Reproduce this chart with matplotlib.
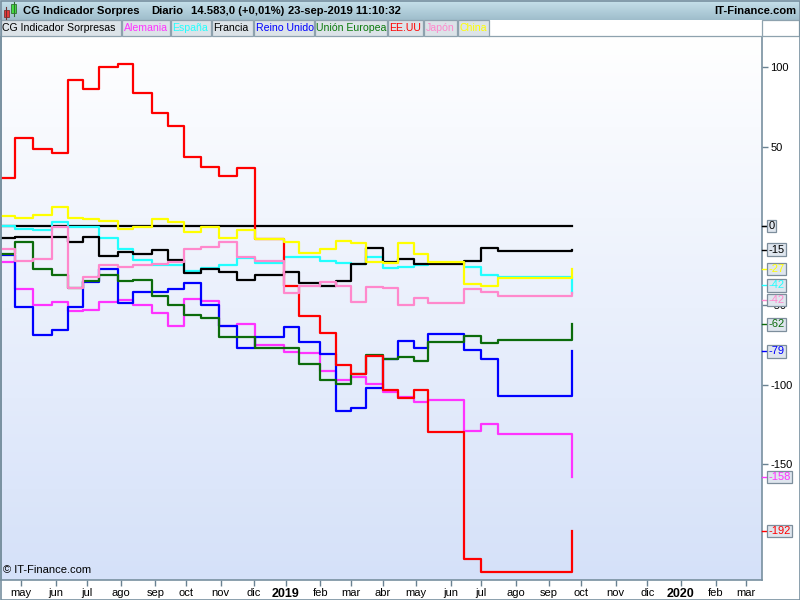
import numpy as np
import matplotlib
matplotlib.use('Agg')
import matplotlib.pyplot as plt
from matplotlib.patches import Rectangle
from matplotlib.lines import Line2D
from matplotlib.colors import LinearSegmentedColormap

plt.rcParams['font.family'] = ['Liberation Sans', 'DejaVu Sans']

# ---------------- data ----------------
release_dates = ['2018-04-12', '2018-04-25', '2018-05-11', '2018-05-30', '2018-06-13',
                 '2018-06-27', '2018-07-12', '2018-07-30', '2018-08-13', '2018-08-30',
                 '2018-09-13', '2018-09-28', '2018-10-15', '2018-10-31', '2018-11-16',
                 '2018-12-04', '2018-12-31', '2019-01-14', '2019-02-01', '2019-02-15',
                 '2019-03-01', '2019-03-15', '2019-04-01', '2019-04-15', '2019-04-30',
                 '2019-05-13', '2019-06-14', '2019-07-01', '2019-07-16', '2019-09-23']

cg_dates = ['2018-04-12', '2019-09-23']
cg_values = [0, 0]

alemania = [-22.7, -39.8, -49.6, -48, -53.8, -52.7, -47.7, -46.5, -49.8, -54.7,
            -62.7, -46.2, -47, -62.8, -62, -75, -79.5, -80, -91, -97.1,
            -95.2, -99.2, -104.5, -107.5, -110.8, -109.7, -129.3, -124.4, -131.1, -158]
espana = [0, -1.8, -2.8, 2.2, -0.6, -0.6, -7.8, -14.6, -21.2, -24.6,
          -24.6, -28.5, -26.2, -24.5, -20.4, -23.3, -19.7, -19.7, -21.9, -23.5,
          -24, -19.7, -26.7, -25.6, -24.6, -23.5, -26, -30.7, -32, -42]
francia = [-7.8, -7.1, -6.7, -7, -10.3, -7.1, -19, -16.2, -17.7, -15,
           -21.2, -29.6, -27, -29, -34, -30.9, -28.8, -36.1, -37.8, -34.5,
           -24, -14.1, -22.9, -21, -23.7, -23.7, -22.2, -14.1, -15.6, -15]
reino_unido = [-18.3, -51.1, -68.7, -65.8, -50.9, -35.3, -27.3, -48.5, -41.8, -41.8,
               -39.6, -36.1, -49.6, -63.2, -77, -70, -63.9, -73.3, -80.9, -116.6,
               -114.3, -102.3, -84, -72.3, -76.7, -68.3, -77.9, -83.7, -107, -79]
union_europea = [-17.5, -10.4, -27.2, -31.1, -39, -34.6, -31.1, -34.5, -34, -44.3,
                 -50, -56.3, -57.7, -69.6, -70, -76.8, -76.8, -87, -97.1, -99.4,
                 -92.9, -81.3, -84, -82.4, -85.1, -73.2, -69.2, -74, -71.9, -62]
eeuu = [30.5, 55.3, 48.5, 45.8, 91.6, 86.4, 100, 102, 83.4, 71.2,
        62.8, 43.5, 37, 31.5, 36.4, -8.5, -37.8, -56.7, -67.3, -87.6,
        -93.3, -82, -103, -108, -103.4, -130, -209.5, -218, -218, -192]
japon = [-14.6, -22.2, -20.5, -0.9, -39.3, -32, -24.6, -25.8, -24.8, -24,
         -23, -14.3, -13, -10.2, -19.5, -21.8, -42.4, -37.8, -35.1, -37.8,
         -48.1, -38.2, -39.3, -49.8, -45.2, -48.2, -39.9, -41.4, -43.9, -42]
china = [6.2, 4.8, 6.9, 11.8, 5.3, 4.3, 3, -2.2, -0.6, 4.2,
         2.5, -3.6, -0.4, -7.6, -2.8, -8.4, -10.3, -16.8, -14.5, -9.2,
         -10.5, -22.5, -23.1, -10.9, -17.7, -22.9, -36.4, -37.8, -33, -27]

series_names = ['CG Indicador Sorpresas', 'Alemania', 'España', 'Francia', 'Reino Unido',
                'Unión Europea', 'EE.UU', 'Japón', 'China']
series_colors = ['#000000', '#ff33ff', '#22ffff', '#000000', '#0000ff',
                 '#0b6b0b', '#ff0000', '#ff88cc', '#ffff00']
legend_text_colors = ['#000000', '#ff33ff', '#22ffff', '#000000', '#0000ff',
                      '#0b7a0b', '#ff0000', '#ff88cc', '#ffff00']

y_ticks = [-150, -100, -50, 0, 50, 100]
month_abbr = ['ene', 'feb', 'mar', 'abr', 'may', 'jun', 'jul', 'ago', 'sep', 'oct', 'nov', 'dic']

# ---------------- helpers ----------------
BASE = '2018-05-01'
def bidx(dates):
    return np.busday_count(BASE, np.array(dates, dtype='datetime64[D]'))

W, H = 800, 600
def fb(x0, y0, x1, y1):
    return [x0 / W, 1 - y1 / H, (x1 - x0) / W, (y1 - y0) / H]

fig = plt.figure(figsize=(8, 6), dpi=100, facecolor='white')

# ---------------- main axes ----------------
ax = fig.add_axes(fb(1, 36, 762, 580))
PX = 1.514
xmin, xmax = (1 - 20.7) / PX, (762 - 20.7) / PX
ymin, ymax = -222.9, 119.6
grad = np.linspace(0, 1, 256).reshape(-1, 1)
bgcmap = LinearSegmentedColormap.from_list('bg', ['#ffffff', '#d5e1f9'])
ax.imshow(grad, cmap=bgcmap, extent=[xmin, xmax, ymin, ymax], aspect='auto',
          origin='upper', zorder=0, interpolation='bilinear')

rx = bidx(release_dates)
all_series = [(bidx(cg_dates), cg_values), (rx, alemania), (rx, espana), (rx, francia),
              (rx, reino_unido), (rx, union_europea), (rx, eeuu), (rx, japon), (rx, china)]
for (xs, ys), c in zip(all_series, series_colors):
    ax.plot(xs, ys, drawstyle='steps-post', color=c, lw=1.6, zorder=3)

ax.set_xlim(xmin, xmax)
ax.set_ylim(ymin, ymax)

# y axis on right (the 0 label is hidden behind the last-value box in the reference)
ax.yaxis.tick_right()
ax.set_yticks(y_ticks)
ax.set_yticklabels(['' if v == 0 else str(v) for v in y_ticks])
ax.tick_params(axis='y', length=4, width=1, color='#6a8292', labelsize=8, pad=2)

# x axis: first business day of each month
tick_pos, tick_lab = [], []
y, m = 2018, 5
while (y, m) <= (2020, 3):
    d = np.busday_offset(f'{y}-{m:02d}-01', 0, roll='forward')
    tick_pos.append(np.busday_count(BASE, d))
    tick_lab.append(str(y) if m == 1 else month_abbr[m - 1])
    m += 1
    if m > 12:
        m = 1
        y += 1
ax.set_xticks(tick_pos)
ax.set_xticklabels(tick_lab)
ax.tick_params(axis='x', length=4, width=1, color='#6a8292', labelsize=8, pad=1.5)
for t in ax.get_xticklabels():
    if t.get_text().isdigit():
        t.set_fontweight('bold')
        t.set_fontsize(9)

for s in ['left', 'right', 'bottom']:
    ax.spines[s].set_color('#7890a0')
    ax.spines[s].set_linewidth(1.2)
ax.spines['top'].set_visible(False)

ax.text(0.003, 0.0085, '© IT-Finance.com', transform=ax.transAxes, fontsize=8,
        va='bottom', ha='left', color='#000000', zorder=5)

# ---------------- header ----------------
hax = fig.add_axes(fb(0, 0, 800, 20))
hcmap = LinearSegmentedColormap.from_list('hd', ['#c8e2ec', '#9ebdcb'])
hax.imshow(grad, cmap=hcmap, extent=[0, 1, 0, 1], aspect='auto', origin='upper')
hax.set_axis_off()

def ftext(px, py, s, **kw):
    return fig.text(px / W, 1 - py / H, s, **kw)

HF = 8.1
ftext(23, 11, 'CG Indicador Sorpres', fontsize=HF, weight='bold', va='center')
ftext(151, 11, 'Diario', fontsize=HF, weight='bold', va='center')
ftext(191, 11, '14.583,0 (+0,01%)', fontsize=HF, weight='bold', va='center')
ftext(288, 11, '23-sep-2019 11:10:32', fontsize=HF, weight='bold', va='center')
ftext(796, 11, 'IT-Finance.com', fontsize=HF, weight='bold', va='center', ha='right')

# candle icon
def frect(x0, y0, x1, y1, **kw):
    r = Rectangle((x0 / W, 1 - y1 / H), (x1 - x0) / W, (y1 - y0) / H,
                  transform=fig.transFigure, **kw)
    fig.add_artist(r)
    return r

def fline(x0, y0, x1, y1, **kw):
    l = Line2D([x0 / W, x1 / W], [1 - y0 / H, 1 - y1 / H], transform=fig.transFigure, **kw)
    fig.add_artist(l)

fline(6, 7, 6, 19, color='#703030', lw=0.8)
frect(3.5, 10, 8.5, 17, facecolor='#e83a3a', edgecolor='#803030', lw=0.6)
fline(13.5, 1.5, 13.5, 16, color='#307030', lw=0.8)
frect(11, 4, 16, 13, facecolor='#44dd44', edgecolor='#307030', lw=0.6)

# ---------------- legend row ----------------
frect(0, 20, 800, 36, facecolor='white', edgecolor='none')
cell_edges = [0, 121, 170, 211, 253, 314, 387, 423, 457, 489]
for i, name in enumerate(series_names):
    x0, x1 = cell_edges[i], cell_edges[i + 1]
    frect(x0 + 0.5, 20.5, x1, 35.5, facecolor='#dce3e8', edgecolor='#8ea2ae', lw=0.9)
    ftext(x0 + 2.5, 28, name, fontsize=7.6, color=legend_text_colors[i], va='center')
frect(762, 20.5, 798.5, 35.5, facecolor='white', edgecolor='#8ea2ae', lw=0.9)
fline(489, 35.5, 762, 35.5, color='#8ea2ae', lw=0.9)

# ---------------- last-value labels ----------------
fig.canvas.draw()
finals = [(ys[-1], c, n) for (xs, ys), c, n in zip(all_series, series_colors, series_names)]
order = sorted(range(len(finals)), key=lambda i: -finals[i][0])
pos = [ax.transData.transform((0, finals[i][0]))[1] for i in order]
gap = 14.5
for _ in range(60):
    for k in range(len(pos) - 1):
        if pos[k] - pos[k + 1] < gap:
            mid = (pos[k] + pos[k + 1]) / 2
            pos[k] = mid + gap / 2
            pos[k + 1] = mid - gap / 2
for k, i in enumerate(order):
    v, c, n = finals[i]
    yy = pos[k] / H
    fig.add_artist(Line2D([762 / W, 767 / W], [yy, yy], transform=fig.transFigure,
                          color=c, lw=1.0))
    fig.text(768.5 / W, yy, f'{v:.0f}', color=c, fontsize=8, va='center', ha='left',
             bbox=dict(boxstyle='square,pad=0.12', facecolor='#dfe6ee',
                       edgecolor='#7d8e9c', lw=0.9), zorder=6)

# outer frame
frect(0.5, 0.5, 799.5, 599.5, facecolor='none', edgecolor='#7890a0', lw=1.2)

fig.savefig('out.png', dpi=100, facecolor='white')
